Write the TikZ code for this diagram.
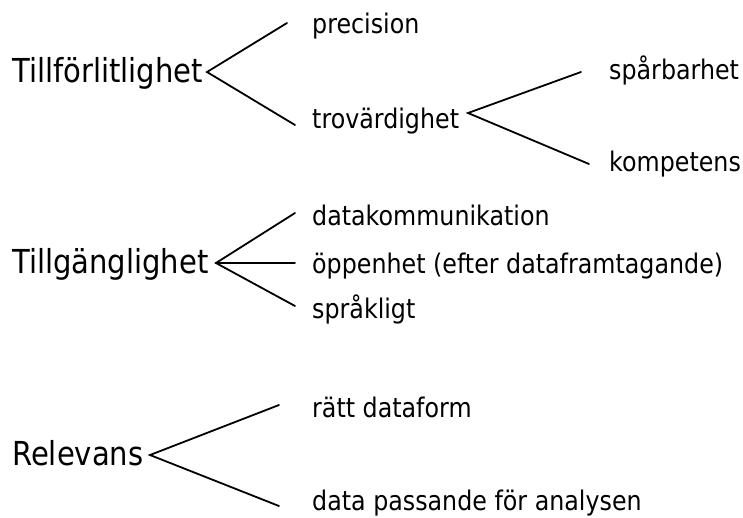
\documentclass[tikz,border=0pt]{standalone}
\usepackage{fontspec}
\setmainfont{DejaVu Sans}[FakeStretch=0.88]
\begin{document}
\begin{tikzpicture}[x=1pt,y=-1pt,
  big/.style={inner sep=0pt,anchor=base west,font=\fontsize{33}{36}\selectfont},
  small/.style={inner sep=0pt,anchor=base west,font=\fontsize{27}{30}\selectfont},
  branch/.style={line width=1.8pt,line cap=round}]
\useasboundingbox (0,0) rectangle (743,517);
% group 1
\node[big] (tf) at (12,82) {Tillförlitlighet};
\node[small] (prec) at (312,33) {precision};
\node[small] (trov) at (312,128) {trovärdighet};
\node[small] (spar) at (609,79) {spårbarhet};
\node[small] (komp) at (609,171) {kompetens};
\coordinate (tfv) at (207,72);
\coordinate (prece) at (287,23);
\coordinate (trove) at (295,125);
\coordinate (trovv) at (468,113);
\coordinate (spare) at (581,72);
\coordinate (kompe) at (589,164);
% group 2
\node[big] (tg) at (12,273) {Tillgänglighet};
\node[small] (dk) at (312,225) {datakommunikation};
\node[small] (opp) at (312,273) {öppenhet (efter dataframtagande)};
\node[small] (spr) at (312,318) {språkligt};
\coordinate (tgv) at (216,263);
\coordinate (dke) at (295,213);
\coordinate (oppe) at (295,263);
\coordinate (spre) at (295,306);
% group 3
\node[big] (rel) at (12,465) {Relevans};
\node[small] (ratt) at (312,417) {rätt dataform};
\node[small] (dp) at (312,510) {data passande för analysen};
\coordinate (relv) at (150,455);
\coordinate (ratte) at (279,405);
\coordinate (dpe) at (279,506);
% connectors
\draw[branch] (prece) -- (tfv) -- (trove);
\draw[branch] (spare) -- (trovv) -- (kompe);
\draw[branch] (dke) -- (tgv) -- (spre);
\draw[branch] (tgv) -- (oppe);
\draw[branch] (ratte) -- (relv) -- (dpe);
\end{tikzpicture}
\end{document}
